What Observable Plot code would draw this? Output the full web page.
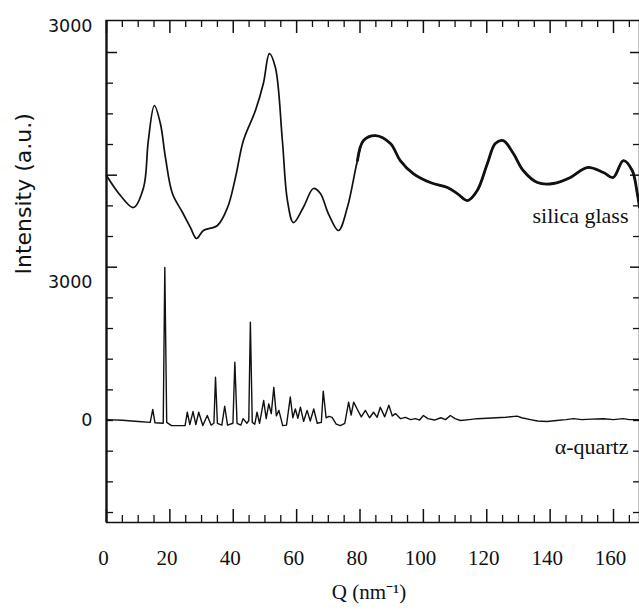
<!DOCTYPE html>
<html><head><meta charset="utf-8">
<script src="https://cdn.jsdelivr.net/npm/d3@7"></script>
<script src="https://cdn.jsdelivr.net/npm/@observablehq/plot@0.6"></script>
<style>
html,body{margin:0;padding:0;background:#fff;}
#chart svg{display:block;}
</style>
</head><body><div id="chart"></div>
<script>
// ---- silica glass (upper curve), Q in nm^-1, intensity in a.u. ----
const glassQ = [0, 4.4, 8.5, 11.7, 13.2, 15.1, 17.0, 18.6, 20.8, 24.0,
  26.5, 28.4, 30.6, 35.0, 38.2, 40.7, 43.2, 47.0, 49.5, 51.4,
  53.3, 55.5, 57.1, 59.0, 62.1, 65.3, 67.5, 70.0, 73.2, 76.0,
  79.2, 81.1, 84.9, 89.6, 92.7, 96.8, 102.2, 107.6, 110.7, 113.9,
  117.0, 120.2, 122.7, 125.2, 128.4, 131.5, 136.0, 141.0, 146.4, 151.7,
  156.8, 159.9, 163.1, 165.9, 167.5, 168.2];
const glassI = [1145, 896, 747, 996, 1581, 2017, 1793, 1370, 921, 685,
  498, 361, 461, 523, 747, 1121, 1581, 1955, 2291, 2664,
  2490, 1581, 834, 560, 747, 984, 921, 672, 461, 747,
  1332, 1581, 1643, 1544, 1332, 1170, 1058, 996, 921, 834,
  959, 1295, 1544, 1581, 1419, 1208, 1058, 1046, 1121, 1245,
  1183, 1121, 1332, 1208, 921, 750];

// ---- alpha-quartz (lower curve) ----
const quartzQ = [0, 5, 10, 13.8, 14.6, 15.3, 17.9, 18.4, 19.0, 20.5,
  24.8, 25.5, 26.3, 27.3, 28.2, 29.1, 30.4, 31.8, 33.0, 33.9,
  34.4, 35.0, 36.4, 37.3, 38.2, 39.9, 40.5, 41.2, 42.4, 43.1,
  44.3, 44.9, 45.4, 46.0, 46.8, 47.5, 48.3, 49.6, 50.4, 51.2,
  52.0, 52.8, 53.6, 54.4, 55.6, 56.8, 58.0, 58.8, 59.6, 60.4,
  61.2, 62.2, 63.3, 64.3, 65.4, 66.5, 67.8, 68.4, 69.3, 70.2,
  71.2, 72.5, 73.8, 75.2, 76.4, 77.2, 78.0, 79.1, 80.4, 81.7,
  83.0, 84.3, 85.4, 86.4, 87.8, 89.1, 90.2, 91.2, 92.8, 94.3,
  96.0, 97.5, 98.8, 100.0, 101.4, 103.5, 105.5, 107.0, 108.5, 110.0,
  111.7, 114.5, 117.0, 120.1, 123.0, 126.0, 129.6, 131.0, 133.8, 136.0,
  139.0, 142.0, 145.0, 147.4, 150.0, 153.0, 156.8, 160.0, 163.0, 165.0,
  168.2];
const quartzI = [20, 5, -20, -40, 240, -50, -60, 3330, -40, -110,
  -110, 180, -90, 195, -90, 180, -110, 110, -100, -60,
  940, -60, -100, 310, -100, -60, 1270, -60, -100, 40,
  -60, 0, 2140, -40, -80, 180, -60, 435, 40, 360,
  150, 720, 100, 220, -110, -100, 510, 60, 250, 50,
  290, -20, 220, -10, 250, -60, -40, 640, 60, 90,
  70, -80, -110, -60, 400, 120, 400, 250, 80, 220,
  60, 180, 70, 290, 80, 330, 100, 150, 40, 70,
  20, 40, 10, 110, 40, 10, 60, 20, 110, 40,
  0, 20, 40, 50, 60, 70, 95, 60, 20, -10,
  -20, 0, 20, 40, 20, 30, 40, 20, 40, 20,
  20];

// ---- ticks and texts ----
const xTickValues = [0, 20, 40, 60, 80, 100, 120, 140, 160];
const xMinorTicks = [5, 10, 15, 25, 30, 35, 45, 50, 55, 65, 70, 75, 85, 90, 95, 105, 110, 115, 125, 130, 135, 145, 150, 155, 165];
const yMinorSteps = [-3, -2, -1, 0, 1, 2, 3, 4, 5, 6, 7, 8, 9, 10, 11, 12];
const yLongSteps = [5, 8, 12];
const seriesLabels = ["silica glass", "\u03b1-quartz"];
const xTitle = "Q (nm\u207b\u00b9)";
const yTitle = "Intensity (a.u.)";

// glass curve is stacked above the quartz curve with its own gain
const GLASS_BASE = 3326, GLASS_GAIN = 1.746;
const toGlass = v => GLASS_BASE + v * GLASS_GAIN;
const yTickLabels = new Map([[toGlass(3000), "3000"], [3000, "3000"], [0, "0"]]);

const glass = glassQ.map((q, i) => ({q, v: glassI[i]}));
const quartz = quartzQ.map((q, i) => ({q, v: quartzI[i]}));

const W = 639, H = 612, ML = 106, MR = 0, MT = 20, MB = 90;
const fw = W - ML - MR, fh = H - MT - MB;
const serif = "'Liberation Serif','Times New Roman',serif";
const sans = "'DejaVu Sans',sans-serif";
const ink = "#111";

const yStep = 2000 / 3;
const yShort = yMinorSteps.filter(k => !yLongSteps.includes(k)).map(k => k * yStep);
const yLong = yLongSteps.map(k => k * yStep);

const chart = Plot.plot({
  width: W, height: H,
  marginLeft: ML, marginRight: MR, marginTop: MT, marginBottom: MB,
  style: {background: "#fff", color: ink},
  x: {domain: [0, 168.2]},
  y: {domain: [-2217, 8696]},
  marks: [
    Plot.axisX({anchor: "bottom", ticks: xTickValues, tickSize: 0, tickPadding: 28, dx: -3,
      fontSize: 21, fontFamily: serif, label: null}),
    Plot.axisY({anchor: "left", ticks: [...yTickLabels.keys()], tickFormat: d => yTickLabels.get(d),
      tickSize: 0, tickPadding: 14, fontSize: 17.5, fontFamily: sans, label: null}),
    // frame
    Plot.frame({stroke: ink, strokeWidth: 1.5}),
    Plot.ruleX([0], {stroke: ink, strokeWidth: 2.2}),
    // top ticks
    Plot.tickX(xTickValues, {x: d => d, insetBottom: fh - 13, stroke: ink, strokeWidth: 1.5}),
    Plot.tickX(xMinorTicks, {x: d => d, insetBottom: fh - 7, stroke: ink, strokeWidth: 1.3}),
    // bottom ticks
    Plot.tickX(xTickValues, {x: d => d, insetTop: fh - 13, stroke: ink, strokeWidth: 1.5}),
    Plot.tickX(xMinorTicks, {x: d => d, insetTop: fh - 7, stroke: ink, strokeWidth: 1.3}),
    // left ticks
    Plot.tickY(yShort, {y: d => d, insetRight: fw - 7, stroke: ink, strokeWidth: 1.3}),
    Plot.tickY(yLong, {y: d => d, insetRight: fw - 11, stroke: ink, strokeWidth: 1.5}),
    // right ticks
    Plot.tickY(yShort, {y: d => d, insetLeft: fw - 6, stroke: ink, strokeWidth: 1.3}),
    Plot.tickY(yLong, {y: d => d, insetLeft: fw - 9, stroke: ink, strokeWidth: 1.5}),
    // curves
    Plot.line(quartz, {x: "q", y: "v", stroke: ink, strokeWidth: 1.4}),
    Plot.line(glass, {x: "q", y: d => toGlass(d.v), stroke: ink, strokeWidth: 1.7, curve: "catmull-rom"}),
    Plot.line(glass.filter(d => d.q >= 79), {x: "q", y: d => toGlass(d.v), stroke: ink, strokeWidth: 2.8, curve: "catmull-rom"}),
    // labels
    Plot.text([seriesLabels[0]], {text: d => d, frameAnchor: "right", dx: -11, dy: -56, textAnchor: "end",
      fontSize: 22, fontFamily: serif, fill: ink}),
    Plot.text([seriesLabels[1]], {text: d => d, frameAnchor: "right", dx: -11, dy: 175, textAnchor: "end",
      fontSize: 22, fontFamily: serif, fill: ink}),
    Plot.text([xTitle], {text: d => d, frameAnchor: "bottom", dx: -4, dy: 76, fontSize: 21, fontFamily: serif, fill: ink}),
    Plot.text([yTitle], {text: d => d, frameAnchor: "left", dx: -83, dy: 3, rotate: -90, fontSize: 22, fontFamily: sans, fill: ink})
  ]
});
document.getElementById("chart").appendChild(chart);
</script>
</body></html>
